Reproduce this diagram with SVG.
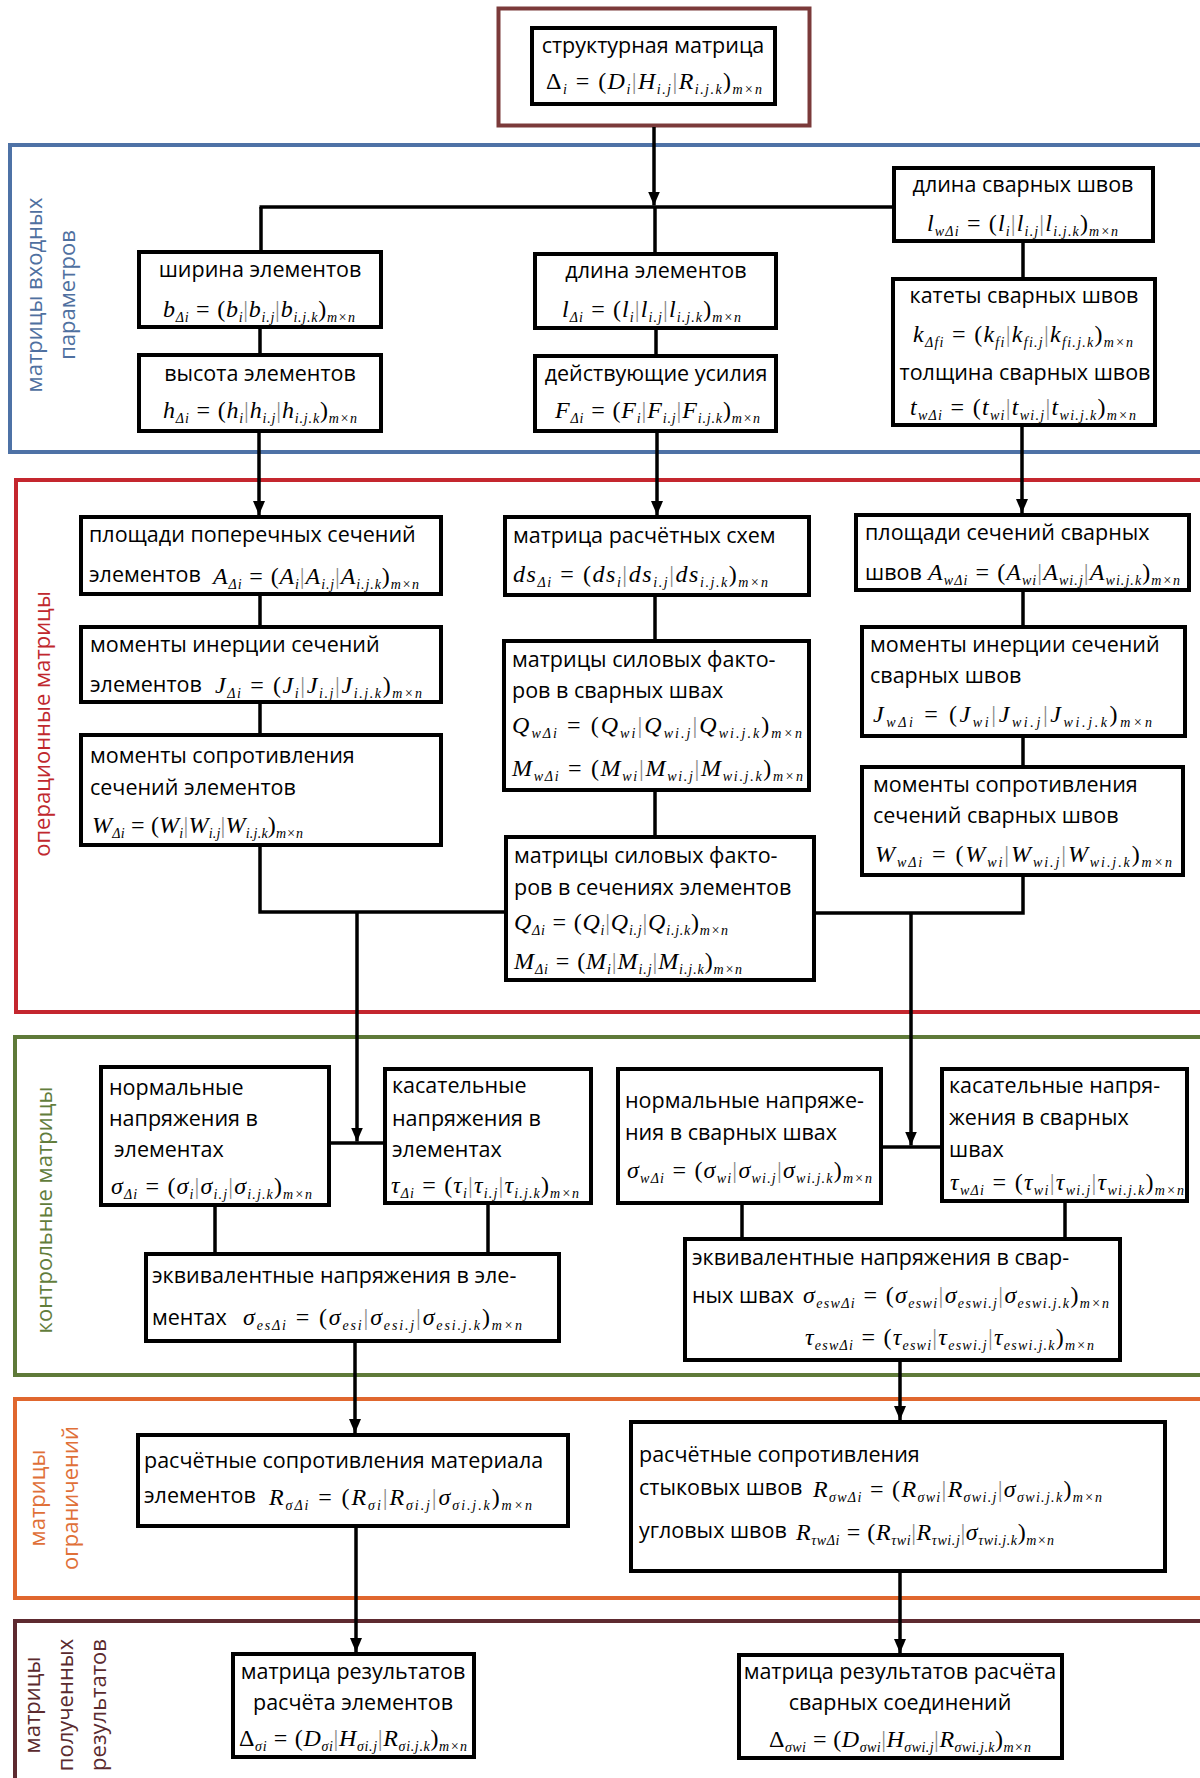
<svg xmlns="http://www.w3.org/2000/svg" width="1200" height="1778" viewBox="0 0 1200 1778">
<style>
.box{fill:#fff;stroke:#000;stroke-width:4}
.con{fill:none;stroke:#000;stroke-width:3.5}
.arr{marker-end:url(#ah)}
.t{font-family:"Open Sans","DejaVu Sans",sans-serif;font-size:21.5px;fill:#000}
.c{text-anchor:middle}
.f{font-family:"Liberation Serif","Times New Roman",serif;font-size:24px;font-style:italic;fill:#000}
.s{font-size:14px}
.u{font-style:normal}
.b{font-style:normal;fill:#888}
.lab{font-family:"Open Sans","DejaVu Sans",sans-serif;font-size:22px;text-anchor:middle}
.frame{fill:none;stroke-width:4}
</style>
<defs>
<marker id="ah" viewBox="0 0 14 12" refX="14" refY="6" markerWidth="14" markerHeight="12" markerUnits="userSpaceOnUse" orient="auto"><path d="M0,0 L14,6 L0,12 z" fill="#000"/></marker>
</defs>
<rect width="1200" height="1778" fill="#fff"/>

<g id="frames">
<rect class="frame" x="498.5" y="8.5" width="311" height="117" stroke="#7b3a3a" stroke-width="3"/>
<rect class="frame" x="10" y="145" width="1200" height="307" stroke="#4e72a6"/>
<rect class="frame" x="16" y="480" width="1200" height="532" stroke="#c4262e"/>
<rect class="frame" x="15" y="1037" width="1200" height="338" stroke="#5f7a39"/>
<rect class="frame" x="15" y="1399" width="1200" height="199" stroke="#e0672e"/>
<rect class="frame" x="15" y="1621" width="1200" height="200" stroke="#5e2a30"/>
</g>

<g id="section-labels">
<g fill="#4f70a0"><text class="lab" transform="translate(42,295) rotate(-90)">матрицы входных</text><text class="lab" transform="translate(75,295) rotate(-90)">параметров</text></g>
<text class="lab" fill="#c0282e" transform="translate(50,724) rotate(-90)">операционные матрицы</text>
<text class="lab" fill="#627d3c" transform="translate(52,1210) rotate(-90)">контрольные матрицы</text>
<g fill="#e07038"><text class="lab" transform="translate(45,1498) rotate(-90)">матрицы</text><text class="lab" transform="translate(78,1498) rotate(-90)">ограничений</text></g>
<g fill="#5a2a2e"><text class="lab" transform="translate(40,1705) rotate(-90)">матрицы</text><text class="lab" transform="translate(73,1705) rotate(-90)">полученных</text><text class="lab" transform="translate(106,1705) rotate(-90)">результатов</text></g>
</g>

<g id="connectors">
<line class="con arr" x1="654" y1="127" x2="654" y2="205.5"/>
<line class="con" x1="259.5" y1="207" x2="892" y2="207"/>
<line class="con" x1="261" y1="207" x2="261" y2="250"/>
<line class="con" x1="655" y1="207" x2="655" y2="252"/>
<line class="con" x1="260" y1="329" x2="260" y2="353"/>
<line class="con" x1="656" y1="330" x2="656" y2="354"/>
<line class="con" x1="1023" y1="243" x2="1023" y2="277"/>
<line class="con arr" x1="259" y1="433" x2="259" y2="515"/>
<line class="con arr" x1="657" y1="433" x2="657" y2="515"/>
<line class="con arr" x1="1022" y1="427" x2="1022" y2="513"/>
<line class="con" x1="260" y1="596" x2="260" y2="625"/>
<line class="con" x1="260" y1="704" x2="260" y2="733"/>
<line class="con" x1="655" y1="597" x2="655" y2="639"/>
<line class="con" x1="655" y1="792" x2="655" y2="835"/>
<line class="con" x1="1023" y1="592" x2="1023" y2="625"/>
<line class="con" x1="1023" y1="738" x2="1023" y2="765"/>
<polyline class="con" points="260,847 260,912 504,912"/>
<polyline class="con" points="1023,877 1023,913 816,913"/>
<line class="con arr" x1="357" y1="912" x2="357" y2="1141.5"/>
<line class="con arr" x1="911" y1="913" x2="911" y2="1145.5"/>
<line class="con" x1="331" y1="1143" x2="383" y2="1143"/>
<line class="con" x1="883" y1="1147" x2="940" y2="1147"/>
<line class="con" x1="215" y1="1207" x2="215" y2="1252"/>
<line class="con" x1="488" y1="1205" x2="488" y2="1252"/>
<line class="con" x1="742" y1="1205" x2="742" y2="1237"/>
<line class="con" x1="1065" y1="1203" x2="1065" y2="1237"/>
<line class="con arr" x1="355" y1="1343" x2="355" y2="1433"/>
<line class="con arr" x1="900" y1="1362" x2="900" y2="1420"/>
<line class="con arr" x1="356" y1="1528" x2="356" y2="1652"/>
<line class="con arr" x1="900" y1="1573" x2="900" y2="1653"/>
</g>

<g id="n-struct">
<rect class="box" x="532" y="28" width="243" height="76"/>
<text class="t c" x="653" y="53">структурная матрица</text>
<text class="f" x="546" y="89" textLength="216" lengthAdjust="spacing"><tspan class="u">Δ</tspan><tspan class="s" dy="5">i</tspan><tspan class="u" dy="-5"> = (</tspan>D<tspan class="s" dy="5">i</tspan><tspan class="b" dy="-5">|</tspan>H<tspan class="s" dy="5">i.j</tspan><tspan class="b" dy="-5">|</tspan>R<tspan class="s" dy="5">i.j.k</tspan><tspan class="u" dy="-5">)</tspan><tspan class="s" dy="5">m×n</tspan></text>
</g>

<g id="n-width">
<rect class="box" x="139" y="252" width="242" height="75"/>
<text class="t c" x="260" y="277">ширина элементов</text>
<text class="f" x="163" y="317" textLength="192" lengthAdjust="spacing">b<tspan class="s" dy="5">Δi</tspan><tspan class="u" dy="-5"> = (</tspan>b<tspan class="s" dy="5">i</tspan><tspan class="b" dy="-5">|</tspan>b<tspan class="s" dy="5">i.j</tspan><tspan class="b" dy="-5">|</tspan>b<tspan class="s" dy="5">i.j.k</tspan><tspan class="u" dy="-5">)</tspan><tspan class="s" dy="5">m×n</tspan></text>
</g>

<g id="n-height">
<rect class="box" x="139" y="355" width="242" height="76"/>
<text class="t c" x="260" y="381">высота элементов</text>
<text class="f" x="163" y="418" textLength="194" lengthAdjust="spacing">h<tspan class="s" dy="5">Δi</tspan><tspan class="u" dy="-5"> = (</tspan>h<tspan class="s" dy="5">i</tspan><tspan class="b" dy="-5">|</tspan>h<tspan class="s" dy="5">i.j</tspan><tspan class="b" dy="-5">|</tspan>h<tspan class="s" dy="5">i.j.k</tspan><tspan class="u" dy="-5">)</tspan><tspan class="s" dy="5">m×n</tspan></text>
</g>

<g id="n-length">
<rect class="box" x="535" y="254" width="241" height="74"/>
<text class="t c" x="656" y="278">длина элементов</text>
<text class="f" x="562" y="317" textLength="179" lengthAdjust="spacing">l<tspan class="s" dy="5">Δi</tspan><tspan class="u" dy="-5"> = (</tspan>l<tspan class="s" dy="5">i</tspan><tspan class="b" dy="-5">|</tspan>l<tspan class="s" dy="5">i.j</tspan><tspan class="b" dy="-5">|</tspan>l<tspan class="s" dy="5">i.j.k</tspan><tspan class="u" dy="-5">)</tspan><tspan class="s" dy="5">m×n</tspan></text>
</g>

<g id="n-forces">
<rect class="box" x="535" y="356" width="241" height="75"/>
<text class="t c" x="656" y="381">действующие усилия</text>
<text class="f" x="555" y="418" textLength="205" lengthAdjust="spacing">F<tspan class="s" dy="5">Δi</tspan><tspan class="u" dy="-5"> = (</tspan>F<tspan class="s" dy="5">i</tspan><tspan class="b" dy="-5">|</tspan>F<tspan class="s" dy="5">i.j</tspan><tspan class="b" dy="-5">|</tspan>F<tspan class="s" dy="5">i.j.k</tspan><tspan class="u" dy="-5">)</tspan><tspan class="s" dy="5">m×n</tspan></text>
</g>

<g id="n-weld-length">
<rect class="box" x="894" y="168" width="259" height="73"/>
<text class="t c" x="1023" y="192">длина сварных швов</text>
<text class="f" x="927" y="231" textLength="191" lengthAdjust="spacing">l<tspan class="s" dy="5">wΔi</tspan><tspan class="u" dy="-5"> = (</tspan>l<tspan class="s" dy="5">i</tspan><tspan class="b" dy="-5">|</tspan>l<tspan class="s" dy="5">i.j</tspan><tspan class="b" dy="-5">|</tspan>l<tspan class="s" dy="5">i.j.k</tspan><tspan class="u" dy="-5">)</tspan><tspan class="s" dy="5">m×n</tspan></text>
</g>

<g id="n-weld-legs">
<rect class="box" x="893" y="279" width="262" height="146"/>
<text class="t c" x="1024" y="303">катеты сварных швов</text>
<text class="f" x="913" y="342" textLength="220" lengthAdjust="spacing">k<tspan class="s" dy="5">Δfi</tspan><tspan class="u" dy="-5"> = (</tspan>k<tspan class="s" dy="5">fi</tspan><tspan class="b" dy="-5">|</tspan>k<tspan class="s" dy="5">fi.j</tspan><tspan class="b" dy="-5">|</tspan>k<tspan class="s" dy="5">fi.j.k</tspan><tspan class="u" dy="-5">)</tspan><tspan class="s" dy="5">m×n</tspan></text>
<text class="t c" x="1025" y="380">толщина сварных швов</text>
<text class="f" x="910" y="415" textLength="226" lengthAdjust="spacing">t<tspan class="s" dy="5">wΔi</tspan><tspan class="u" dy="-5"> = (</tspan>t<tspan class="s" dy="5">wi</tspan><tspan class="b" dy="-5">|</tspan>t<tspan class="s" dy="5">wi.j</tspan><tspan class="b" dy="-5">|</tspan>t<tspan class="s" dy="5">wi.j.k</tspan><tspan class="u" dy="-5">)</tspan><tspan class="s" dy="5">m×n</tspan></text>
</g>

<g id="n-areas">
<rect class="box" x="81" y="517" width="360" height="77"/>
<text class="t" x="89" y="542">площади поперечных сечений</text>
<text class="t" x="89" y="582">элементов</text>
<text class="f" x="213" y="584" textLength="206" lengthAdjust="spacing">A<tspan class="s" dy="5">Δi</tspan><tspan class="u" dy="-5"> = (</tspan>A<tspan class="s" dy="5">i</tspan><tspan class="b" dy="-5">|</tspan>A<tspan class="s" dy="5">i.j</tspan><tspan class="b" dy="-5">|</tspan>A<tspan class="s" dy="5">i.j.k</tspan><tspan class="u" dy="-5">)</tspan><tspan class="s" dy="5">m×n</tspan></text>
</g>

<g id="n-inertia">
<rect class="box" x="81" y="627" width="360" height="75"/>
<text class="t" x="90" y="652">моменты инерции сечений</text>
<text class="t" x="90" y="692">элементов</text>
<text class="f" x="215" y="693" textLength="207" lengthAdjust="spacing">J<tspan class="s" dy="5">Δi</tspan><tspan class="u" dy="-5"> = (</tspan>J<tspan class="s" dy="5">i</tspan><tspan class="b" dy="-5">|</tspan>J<tspan class="s" dy="5">i.j</tspan><tspan class="b" dy="-5">|</tspan>J<tspan class="s" dy="5">i.j.k</tspan><tspan class="u" dy="-5">)</tspan><tspan class="s" dy="5">m×n</tspan></text>
</g>

<g id="n-modulus">
<rect class="box" x="81" y="735" width="360" height="110"/>
<text class="t" x="90" y="763">моменты сопротивления</text>
<text class="t" x="90" y="795">сечений элементов</text>
<text class="f" x="92" y="833" textLength="211" lengthAdjust="spacing">W<tspan class="s" dy="5">Δi</tspan><tspan class="u" dy="-5"> = (</tspan>W<tspan class="s" dy="5">i</tspan><tspan class="b" dy="-5">|</tspan>W<tspan class="s" dy="5">i.j</tspan><tspan class="b" dy="-5">|</tspan>W<tspan class="s" dy="5">i.j.k</tspan><tspan class="u" dy="-5">)</tspan><tspan class="s" dy="5">m×n</tspan></text>
</g>

<g id="n-schemes">
<rect class="box" x="505" y="517" width="304" height="78"/>
<text class="t" x="513" y="543">матрица расчётных схем</text>
<text class="f" x="513" y="582" textLength="255" lengthAdjust="spacing">ds<tspan class="s" dy="5">Δi</tspan><tspan class="u" dy="-5"> = (</tspan>ds<tspan class="s" dy="5">i</tspan><tspan class="b" dy="-5">|</tspan>ds<tspan class="s" dy="5">i.j</tspan><tspan class="b" dy="-5">|</tspan>ds<tspan class="s" dy="5">i.j.k</tspan><tspan class="u" dy="-5">)</tspan><tspan class="s" dy="5">m×n</tspan></text>
</g>

<g id="n-weld-forces">
<rect class="box" x="504" y="641" width="305" height="149"/>
<text class="t" x="512" y="667">матрицы силовых факто-</text>
<text class="t" x="512" y="698">ров в сварных швах</text>
<text class="f" x="512" y="733" textLength="290" lengthAdjust="spacing">Q<tspan class="s" dy="5">wΔi</tspan><tspan class="u" dy="-5"> = (</tspan>Q<tspan class="s" dy="5">wi</tspan><tspan class="b" dy="-5">|</tspan>Q<tspan class="s" dy="5">wi.j</tspan><tspan class="b" dy="-5">|</tspan>Q<tspan class="s" dy="5">wi.j.k</tspan><tspan class="u" dy="-5">)</tspan><tspan class="s" dy="5">m×n</tspan></text>
<text class="f" x="512" y="776" textLength="291" lengthAdjust="spacing">M<tspan class="s" dy="5">wΔi</tspan><tspan class="u" dy="-5"> = (</tspan>M<tspan class="s" dy="5">wi</tspan><tspan class="b" dy="-5">|</tspan>M<tspan class="s" dy="5">wi.j</tspan><tspan class="b" dy="-5">|</tspan>M<tspan class="s" dy="5">wi.j.k</tspan><tspan class="u" dy="-5">)</tspan><tspan class="s" dy="5">m×n</tspan></text>
</g>

<g id="n-section-forces">
<rect class="box" x="506" y="837" width="308" height="143"/>
<text class="t" x="514" y="863">матрицы силовых факто-</text>
<text class="t" x="514" y="895">ров в сечениях элементов</text>
<text class="f" x="514" y="930" textLength="214" lengthAdjust="spacing">Q<tspan class="s" dy="5">Δi</tspan><tspan class="u" dy="-5"> = (</tspan>Q<tspan class="s" dy="5">i</tspan><tspan class="b" dy="-5">|</tspan>Q<tspan class="s" dy="5">i.j</tspan><tspan class="b" dy="-5">|</tspan>Q<tspan class="s" dy="5">i.j.k</tspan><tspan class="u" dy="-5">)</tspan><tspan class="s" dy="5">m×n</tspan></text>
<text class="f" x="514" y="969" textLength="228" lengthAdjust="spacing">M<tspan class="s" dy="5">Δi</tspan><tspan class="u" dy="-5"> = (</tspan>M<tspan class="s" dy="5">i</tspan><tspan class="b" dy="-5">|</tspan>M<tspan class="s" dy="5">i.j</tspan><tspan class="b" dy="-5">|</tspan>M<tspan class="s" dy="5">i.j.k</tspan><tspan class="u" dy="-5">)</tspan><tspan class="s" dy="5">m×n</tspan></text>
</g>

<g id="n-weld-areas">
<rect class="box" x="856" y="515" width="333" height="75"/>
<text class="t" x="865" y="540">площади сечений сварных</text>
<text class="t" x="865" y="580">швов</text>
<text class="f" x="928" y="580" textLength="252" lengthAdjust="spacing">A<tspan class="s" dy="5">wΔi</tspan><tspan class="u" dy="-5"> = (</tspan>A<tspan class="s" dy="5">wi</tspan><tspan class="b" dy="-5">|</tspan>A<tspan class="s" dy="5">wi.j</tspan><tspan class="b" dy="-5">|</tspan>A<tspan class="s" dy="5">wi.j.k</tspan><tspan class="u" dy="-5">)</tspan><tspan class="s" dy="5">m×n</tspan></text>
</g>

<g id="n-weld-inertia">
<rect class="box" x="862" y="627" width="323" height="109"/>
<text class="t" x="870" y="652">моменты инерции сечений</text>
<text class="t" x="870" y="683">сварных швов</text>
<text class="f" x="873" y="722" textLength="279" lengthAdjust="spacing">J<tspan class="s" dy="5">wΔi</tspan><tspan class="u" dy="-5"> = (</tspan>J<tspan class="s" dy="5">wi</tspan><tspan class="b" dy="-5">|</tspan>J<tspan class="s" dy="5">wi.j</tspan><tspan class="b" dy="-5">|</tspan>J<tspan class="s" dy="5">wi.j.k</tspan><tspan class="u" dy="-5">)</tspan><tspan class="s" dy="5">m×n</tspan></text>
</g>

<g id="n-weld-modulus">
<rect class="box" x="862" y="767" width="321" height="108"/>
<text class="t" x="873" y="792">моменты сопротивления</text>
<text class="t" x="873" y="823">сечений сварных швов</text>
<text class="f" x="875" y="862" textLength="297" lengthAdjust="spacing">W<tspan class="s" dy="5">wΔi</tspan><tspan class="u" dy="-5"> = (</tspan>W<tspan class="s" dy="5">wi</tspan><tspan class="b" dy="-5">|</tspan>W<tspan class="s" dy="5">wi.j</tspan><tspan class="b" dy="-5">|</tspan>W<tspan class="s" dy="5">wi.j.k</tspan><tspan class="u" dy="-5">)</tspan><tspan class="s" dy="5">m×n</tspan></text>
</g>

<g id="n-normal-el">
<rect class="box" x="101" y="1067" width="228" height="138"/>
<text class="t" x="109" y="1095">нормальные</text>
<text class="t" x="109" y="1126">напряжения в</text>
<text class="t" x="114" y="1157">элементах</text>
<text class="f" x="111" y="1194" textLength="201" lengthAdjust="spacing">σ<tspan class="s" dy="5">Δi</tspan><tspan class="u" dy="-5"> = (</tspan>σ<tspan class="s" dy="5">i</tspan><tspan class="b" dy="-5">|</tspan>σ<tspan class="s" dy="5">i.j</tspan><tspan class="b" dy="-5">|</tspan>σ<tspan class="s" dy="5">i.j.k</tspan><tspan class="u" dy="-5">)</tspan><tspan class="s" dy="5">m×n</tspan></text>
</g>

<g id="n-shear-el">
<rect class="box" x="385" y="1069" width="206" height="134"/>
<text class="t" x="392" y="1093">касательные</text>
<text class="t" x="392" y="1126">напряжения в</text>
<text class="t" x="392" y="1157">элементах</text>
<text class="f" x="391" y="1193" textLength="188" lengthAdjust="spacing">τ<tspan class="s" dy="5">Δi</tspan><tspan class="u" dy="-5"> = (</tspan>τ<tspan class="s" dy="5">i</tspan><tspan class="b" dy="-5">|</tspan>τ<tspan class="s" dy="5">i.j</tspan><tspan class="b" dy="-5">|</tspan>τ<tspan class="s" dy="5">i.j.k</tspan><tspan class="u" dy="-5">)</tspan><tspan class="s" dy="5">m×n</tspan></text>
</g>

<g id="n-normal-weld">
<rect class="box" x="618" y="1069" width="263" height="134"/>
<text class="t" x="625" y="1108">нормальные напряже-</text>
<text class="t" x="625" y="1140">ния в сварных швах</text>
<text class="f" x="627" y="1178" textLength="245" lengthAdjust="spacing">σ<tspan class="s" dy="5">wΔi</tspan><tspan class="u" dy="-5"> = (</tspan>σ<tspan class="s" dy="5">wi</tspan><tspan class="b" dy="-5">|</tspan>σ<tspan class="s" dy="5">wi.j</tspan><tspan class="b" dy="-5">|</tspan>σ<tspan class="s" dy="5">wi.j.k</tspan><tspan class="u" dy="-5">)</tspan><tspan class="s" dy="5">m×n</tspan></text>
</g>

<g id="n-shear-weld">
<rect class="box" x="942" y="1069" width="245" height="132"/>
<text class="t" x="949" y="1093">касательные напря-</text>
<text class="t" x="949" y="1125">жения в сварных</text>
<text class="t" x="949" y="1157">швах</text>
<text class="f" x="950" y="1190" textLength="234" lengthAdjust="spacing">τ<tspan class="s" dy="5">wΔi</tspan><tspan class="u" dy="-5"> = (</tspan>τ<tspan class="s" dy="5">wi</tspan><tspan class="b" dy="-5">|</tspan>τ<tspan class="s" dy="5">wi.j</tspan><tspan class="b" dy="-5">|</tspan>τ<tspan class="s" dy="5">wi.j.k</tspan><tspan class="u" dy="-5">)</tspan><tspan class="s" dy="5">m×n</tspan></text>
</g>

<g id="n-equiv-el">
<rect class="box" x="146" y="1254" width="413" height="87"/>
<text class="t" x="152" y="1283">эквивалентные напряжения в эле-</text>
<text class="t" x="152" y="1325">ментах</text>
<text class="f" x="243" y="1325" textLength="279" lengthAdjust="spacing">σ<tspan class="s" dy="5">esΔi</tspan><tspan class="u" dy="-5"> = (</tspan>σ<tspan class="s" dy="5">esi</tspan><tspan class="b" dy="-5">|</tspan>σ<tspan class="s" dy="5">esi.j</tspan><tspan class="b" dy="-5">|</tspan>σ<tspan class="s" dy="5">esi.j.k</tspan><tspan class="u" dy="-5">)</tspan><tspan class="s" dy="5">m×n</tspan></text>
</g>

<g id="n-equiv-weld">
<rect class="box" x="685" y="1239" width="435" height="121"/>
<text class="t" x="692" y="1265">эквивалентные напряжения в свар-</text>
<text class="t" x="692" y="1303">ных швах</text>
<text class="f" x="803" y="1303" textLength="306" lengthAdjust="spacing">σ<tspan class="s" dy="5">eswΔi</tspan><tspan class="u" dy="-5"> = (</tspan>σ<tspan class="s" dy="5">eswi</tspan><tspan class="b" dy="-5">|</tspan>σ<tspan class="s" dy="5">eswi.j</tspan><tspan class="b" dy="-5">|</tspan>σ<tspan class="s" dy="5">eswi.j.k</tspan><tspan class="u" dy="-5">)</tspan><tspan class="s" dy="5">m×n</tspan></text>
<text class="f" x="805" y="1345" textLength="289" lengthAdjust="spacing">τ<tspan class="s" dy="5">eswΔi</tspan><tspan class="u" dy="-5"> = (</tspan>τ<tspan class="s" dy="5">eswi</tspan><tspan class="b" dy="-5">|</tspan>τ<tspan class="s" dy="5">eswi.j</tspan><tspan class="b" dy="-5">|</tspan>τ<tspan class="s" dy="5">eswi.j.k</tspan><tspan class="u" dy="-5">)</tspan><tspan class="s" dy="5">m×n</tspan></text>
</g>

<g id="n-resist-el">
<rect class="box" x="138" y="1435" width="430" height="91"/>
<text class="t" x="144" y="1468">расчётные сопротивления материала</text>
<text class="t" x="144" y="1503">элементов</text>
<text class="f" x="269" y="1505" textLength="263" lengthAdjust="spacing">R<tspan class="s" dy="5">σΔi</tspan><tspan class="u" dy="-5"> = (</tspan>R<tspan class="s" dy="5">σi</tspan><tspan class="b" dy="-5">|</tspan>R<tspan class="s" dy="5">σi.j</tspan><tspan class="b" dy="-5">|</tspan>σ<tspan class="s" dy="5">σi.j.k</tspan><tspan class="u" dy="-5">)</tspan><tspan class="s" dy="5">m×n</tspan></text>
</g>

<g id="n-resist-weld">
<rect class="box" x="631" y="1422" width="534" height="149"/>
<text class="t" x="639" y="1462">расчётные сопротивления</text>
<text class="t" x="639" y="1495">стыковых швов</text>
<text class="f" x="813" y="1497" textLength="289" lengthAdjust="spacing">R<tspan class="s" dy="5">σwΔi</tspan><tspan class="u" dy="-5"> = (</tspan>R<tspan class="s" dy="5">σwi</tspan><tspan class="b" dy="-5">|</tspan>R<tspan class="s" dy="5">σwi.j</tspan><tspan class="b" dy="-5">|</tspan>σ<tspan class="s" dy="5">σwi.j.k</tspan><tspan class="u" dy="-5">)</tspan><tspan class="s" dy="5">m×n</tspan></text>
<text class="t" x="639" y="1538">угловых швов</text>
<text class="f" x="796" y="1540" textLength="258" lengthAdjust="spacing">R<tspan class="s" dy="5">τwΔi</tspan><tspan class="u" dy="-5"> = (</tspan>R<tspan class="s" dy="5">τwi</tspan><tspan class="b" dy="-5">|</tspan>R<tspan class="s" dy="5">τwi.j</tspan><tspan class="b" dy="-5">|</tspan>σ<tspan class="s" dy="5">τwi.j.k</tspan><tspan class="u" dy="-5">)</tspan><tspan class="s" dy="5">m×n</tspan></text>
</g>

<g id="n-result-el">
<rect class="box" x="233" y="1654" width="241" height="103"/>
<text class="t c" x="353" y="1679">матрица результатов</text>
<text class="t c" x="353" y="1710">расчёта элементов</text>
<text class="f" x="239" y="1746" textLength="228" lengthAdjust="spacing"><tspan class="u">Δ</tspan><tspan class="s" dy="5">σi</tspan><tspan class="u" dy="-5"> = (</tspan>D<tspan class="s" dy="5">σi</tspan><tspan class="b" dy="-5">|</tspan>H<tspan class="s" dy="5">σi.j</tspan><tspan class="b" dy="-5">|</tspan>R<tspan class="s" dy="5">σi.j.k</tspan><tspan class="u" dy="-5">)</tspan><tspan class="s" dy="5">m×n</tspan></text>
</g>

<g id="n-result-weld">
<rect class="box" x="739" y="1655" width="323" height="103"/>
<text class="t c" x="900" y="1679">матрица результатов расчёта</text>
<text class="t c" x="900" y="1710">сварных соединений</text>
<text class="f" x="769" y="1747" textLength="262" lengthAdjust="spacing"><tspan class="u">Δ</tspan><tspan class="s" dy="5">σwi</tspan><tspan class="u" dy="-5"> = (</tspan>D<tspan class="s" dy="5">σwi</tspan><tspan class="b" dy="-5">|</tspan>H<tspan class="s" dy="5">σwi.j</tspan><tspan class="b" dy="-5">|</tspan>R<tspan class="s" dy="5">σwi.j.k</tspan><tspan class="u" dy="-5">)</tspan><tspan class="s" dy="5">m×n</tspan></text>
</g>
</svg>
